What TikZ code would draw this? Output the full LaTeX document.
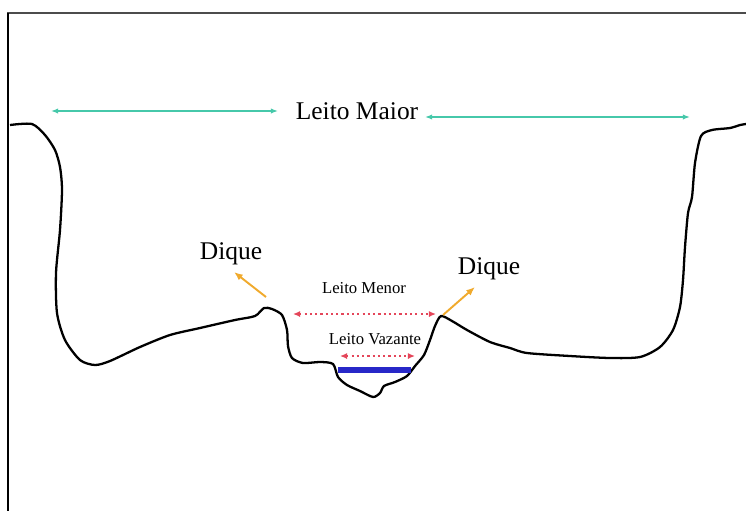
\documentclass[tikz,border=0pt]{standalone}
\usepackage{fontspec}
\setmainfont{Liberation Serif}
\usetikzlibrary{arrows.meta, positioning}

\definecolor{tealarrow}{RGB}{70,200,170}
\definecolor{redarrow}{RGB}{228,70,90}
\definecolor{dikearrow}{RGB}{240,170,45}
\definecolor{lowwater}{RGB}{40,40,200}

\begin{document}
\begin{tikzpicture}[x=0.02cm,y=-0.02cm,
                    ground/.style={line width=1.3pt,black,line join=round},
                    maior/.style={{Latex[length=4pt,width=3pt]}-{Latex[length=4pt,width=3pt]},tealarrow,line width=0.9pt},
                    menor/.style={{Latex[length=4pt,width=3.5pt]}-{Latex[length=4pt,width=3.5pt]},redarrow,line width=1pt,dash pattern=on 1.2pt off 1.8pt},
                    dike/.style={-{Latex[length=5pt,width=4pt]},dikearrow,line width=1.1pt},
                    big label/.style={font=\fontsize{14.5}{17}\selectfont,inner sep=1pt},
                    small label/.style={font=\fontsize{9.5}{11}\selectfont,inner sep=1pt}]

  \useasboundingbox (0,0) rectangle (746,511);

  % frame
  \draw[line width=1.3pt,black!70] (7,13) -- (746,13);
  \draw[line width=1pt,black] (8,13) -- (8,511);

  % valley profile
  \draw[ground] plot[smooth,tension=0.45] coordinates {
    (10,125) (32,124) (45,135) (55,150) (60,167) (62,190) (60,230) (56,273)
    (57,313) (65,340) (80,360) (95,365) (110,361) (140,347) (170,335)
    (200,328) (235,320) (255,316) (264,308) (272,309) (282,315)
    (287,330) (288,346) (292,358) (303,363) (320,362) (333,364)
    (338,377) (347,385) (360,391) (373,397) (380,393) (384,386)
    (395,382) (407,376) (415,366) (424,355) (430,340) (435,326)
    (441,316) (452,321) (467,330) (490,342) (510,348) (527,353)
    (570,356) (610,358) (640,357) (660,347) (673,330) (680,307)
    (683,280) (685,247) (688,213) (692,197) (695,163) (701,136)
    (712,130) (730,128) (740,125) (746,124)};

  % low water level
  \draw[lowwater,line width=3pt] (338,370) -- (411,370);

  % labels
  \node[big label] (maior) at (357,111) {Leito Maior};
  \node[big label] (diqueL) at (231,254) {Dique};
  \node[big label] (diqueR) at (489,269) {Dique};
  \node[small label] (menor) at (364,288) {Leito Menor};
  \node[small label] (vazante) at (375,339) {Leito Vazante};

  % arrow ends
  \coordinate (maiorA) at (51,111);
  \coordinate (maiorB) at (278,111);
  \coordinate (maiorC) at (425,117);
  \coordinate (maiorD) at (690,117);
  \coordinate (menorA) at (293,314);
  \coordinate (menorB) at (436,314);
  \coordinate (vazA) at (340,356);
  \coordinate (vazB) at (415,356);
  \coordinate (crestL) at (266,297);
  \coordinate (tipL) at (234,272);
  \coordinate (crestR) at (443,315);
  \coordinate (tipR) at (475,287);

  \draw[maior] (maiorA) -- (maiorB);
  \draw[maior] (maiorC) -- (maiorD);
  \draw[menor] (menorA) -- (menorB);
  \draw[menor] (vazA) -- (vazB);
  \draw[dike] (crestL) -- (tipL);
  \draw[dike] (crestR) -- (tipR);

\end{tikzpicture}
\end{document}
